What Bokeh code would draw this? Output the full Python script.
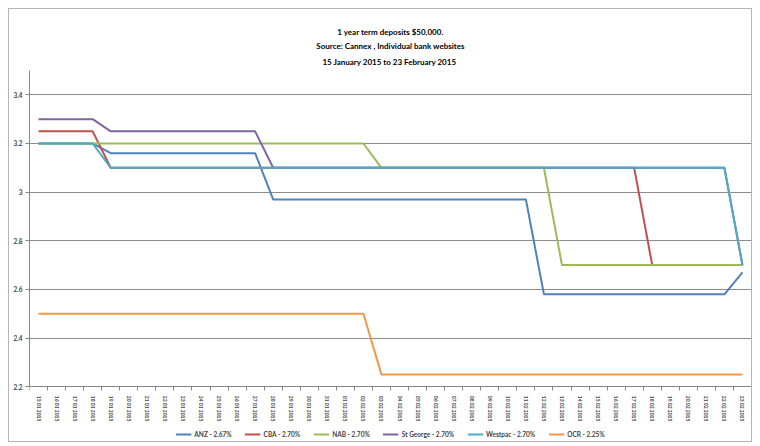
from bokeh.plotting import figure
from bokeh.models import FixedTicker, Legend, LegendItem, Title, Range1d
from bokeh.embed import file_html
from bokeh.resources import INLINE

dates = ["15 01 2015", "16 01 2015", "17 01 2015", "18 01 2015", "19 01 2015",
         "20 01 2015", "21 01 2015", "22 01 2015", "23 01 2015", "24 01 2015",
         "25 01 2015", "26 01 2015", "27 01 2015", "28 01 2015", "29 01 2015",
         "30 01 2015", "31 01 2015", "01 02 2015", "02 02 2015", "03 02 2015",
         "04 02 2015", "05 02 2015", "06 02 2015", "07 02 2015", "08 02 2015",
         "09 02 2015", "10 02 2015", "11 02 2015", "12 02 2015", "13 02 2015",
         "14 02 2015", "15 02 2015", "16 02 2015", "17 02 2015", "18 02 2015",
         "19 02 2015", "20 02 2015", "21 02 2015", "22 02 2015", "23 02 2015"]

anz = [3.20, 3.20, 3.20, 3.20, 3.16, 3.16, 3.16, 3.16, 3.16, 3.16,
       3.16, 3.16, 3.16, 2.97, 2.97, 2.97, 2.97, 2.97, 2.97, 2.97,
       2.97, 2.97, 2.97, 2.97, 2.97, 2.97, 2.97, 2.97, 2.58, 2.58,
       2.58, 2.58, 2.58, 2.58, 2.58, 2.58, 2.58, 2.58, 2.58, 2.67]
cba = [3.25, 3.25, 3.25, 3.25, 3.10, 3.10, 3.10, 3.10, 3.10, 3.10,
       3.10, 3.10, 3.10, 3.10, 3.10, 3.10, 3.10, 3.10, 3.10, 3.10,
       3.10, 3.10, 3.10, 3.10, 3.10, 3.10, 3.10, 3.10, 3.10, 3.10,
       3.10, 3.10, 3.10, 3.10, 2.70, 2.70, 2.70, 2.70, 2.70, 2.70]
nab = [3.20, 3.20, 3.20, 3.20, 3.20, 3.20, 3.20, 3.20, 3.20, 3.20,
       3.20, 3.20, 3.20, 3.20, 3.20, 3.20, 3.20, 3.20, 3.20, 3.10,
       3.10, 3.10, 3.10, 3.10, 3.10, 3.10, 3.10, 3.10, 3.10, 2.70,
       2.70, 2.70, 2.70, 2.70, 2.70, 2.70, 2.70, 2.70, 2.70, 2.70]
stgeorge = [3.30, 3.30, 3.30, 3.30, 3.25, 3.25, 3.25, 3.25, 3.25, 3.25,
            3.25, 3.25, 3.25, 3.10, 3.10, 3.10, 3.10, 3.10, 3.10, 3.10,
            3.10, 3.10, 3.10, 3.10, 3.10, 3.10, 3.10, 3.10, 3.10, 3.10,
            3.10, 3.10, 3.10, 3.10, 3.10, 3.10, 3.10, 3.10, 3.10, 2.70]
westpac = [3.20, 3.20, 3.20, 3.20, 3.10, 3.10, 3.10, 3.10, 3.10, 3.10,
           3.10, 3.10, 3.10, 3.10, 3.10, 3.10, 3.10, 3.10, 3.10, 3.10,
           3.10, 3.10, 3.10, 3.10, 3.10, 3.10, 3.10, 3.10, 3.10, 3.10,
           3.10, 3.10, 3.10, 3.10, 3.10, 3.10, 3.10, 3.10, 3.10, 2.70]
ocr = [2.50, 2.50, 2.50, 2.50, 2.50, 2.50, 2.50, 2.50, 2.50, 2.50,
       2.50, 2.50, 2.50, 2.50, 2.50, 2.50, 2.50, 2.50, 2.50, 2.25,
       2.25, 2.25, 2.25, 2.25, 2.25, 2.25, 2.25, 2.25, 2.25, 2.25,
       2.25, 2.25, 2.25, 2.25, 2.25, 2.25, 2.25, 2.25, 2.25, 2.25]

series_names = ["ANZ - 2.67%", "CBA - 2.70%", "NAB - 2.70%",
                "St George - 2.70%", "Westpac - 2.70%", "OCR - 2.25%"]
series_values = [anz, cba, nab, stgeorge, westpac, ocr]
colors = ["#4F81BD", "#C0504D", "#9BBB59", "#8064A2", "#4BACC6", "#F79646"]

y_ticks = [2.2, 2.4, 2.6, 2.8, 3.0, 3.2, 3.4]
y_tick_labels = ["2.2", "2.4", "2.6", "2.8", "3", "3.2", "3.4"]
y_axis_min = 2.2
y_axis_max = 3.5

title_lines = ["1 year term deposits $50,000.",
               "Source: Cannex , Individual bank websites",
               "15 January 2015 to  23 February 2015"]

FONT = "Lato"
x = list(range(len(dates)))

# The frame reaches below the x axis so that the legend can sit inside it.
p = figure(frame_width=722, frame_height=371, output_backend="svg",
           toolbar_location=None,
           x_range=Range1d(-0.5, len(dates) - 0.5),
           y_range=Range1d(1.975, y_axis_max),
           min_border_left=20, min_border_right=0, min_border_top=61,
           min_border_bottom=0,
           styles={"border": "1px solid #b4b4b4", "margin-left": "8px",
                   "margin-top": "8px"})
p.outline_line_color = None
p.background_fill_color = "white"
p.border_fill_color = "white"

# title lines: added from the plot outward
standoffs = [2, 2, 7]
for line, so in reversed(list(zip(title_lines, standoffs))):
    p.add_layout(Title(text=line, align="center", text_font=FONT,
                       text_font_size="8px", text_font_style="bold",
                       text_color="#000000", standoff=so), "above")

# x axis drawn at the bottom of the value scale
p.xaxis.fixed_location = y_axis_min
p.xaxis.axis_label = None
p.yaxis.axis_label = None
p.xaxis.ticker = FixedTicker(ticks=x, minor_ticks=[i - 0.5 for i in range(len(dates) + 1)])
p.xaxis.major_label_overrides = {i: d for i, d in enumerate(dates)}
p.xaxis.major_label_orientation = "vertical"
p.xaxis.major_tick_out = 0
p.xaxis.major_tick_in = 0
p.xaxis.minor_tick_out = 4
p.xaxis.minor_tick_in = 0
p.xaxis.major_label_text_font = FONT
p.xaxis.major_label_text_font_size = "5px"
p.xaxis.major_label_text_font_style = "bold"
p.xaxis.major_label_standoff = 5
p.xaxis.axis_line_color = "#868686"
p.xaxis.minor_tick_line_color = "#868686"

p.yaxis.bounds = (y_axis_min, y_axis_max)
p.yaxis.ticker = FixedTicker(ticks=y_ticks)
p.yaxis.major_label_overrides = dict(zip(y_ticks, y_tick_labels))
p.yaxis.major_tick_out = 4
p.yaxis.major_tick_in = 0
p.yaxis.minor_tick_line_color = None
p.yaxis.major_label_text_font = FONT
p.yaxis.major_label_text_font_size = "6.5px"
p.yaxis.major_label_text_font_style = "bold"
p.yaxis.major_label_standoff = 3
p.yaxis.axis_line_color = "#868686"
p.yaxis.major_tick_line_color = "#868686"

p.xgrid.grid_line_color = None
p.ygrid.ticker = FixedTicker(ticks=y_ticks)
p.ygrid.grid_line_color = "#8c8c8c"
p.ygrid.grid_line_width = 1

items = []
for name, vals, c in zip(series_names, series_values, colors):
    r = p.line(x, vals, line_color=c, line_width=2)
    items.append(LegendItem(label=name, renderers=[r]))

legend = Legend(items=items, orientation="horizontal", location="bottom_center",
                glyph_width=16, glyph_height=8, label_standoff=3, spacing=13,
                padding=1, margin=3, border_line_color=None,
                background_fill_alpha=0,
                label_text_font=FONT, label_text_font_size="6.5px",
                label_text_font_style="bold", label_height=8)
p.add_layout(legend, "center")

open("out.html", "w").write(file_html(p, INLINE))
